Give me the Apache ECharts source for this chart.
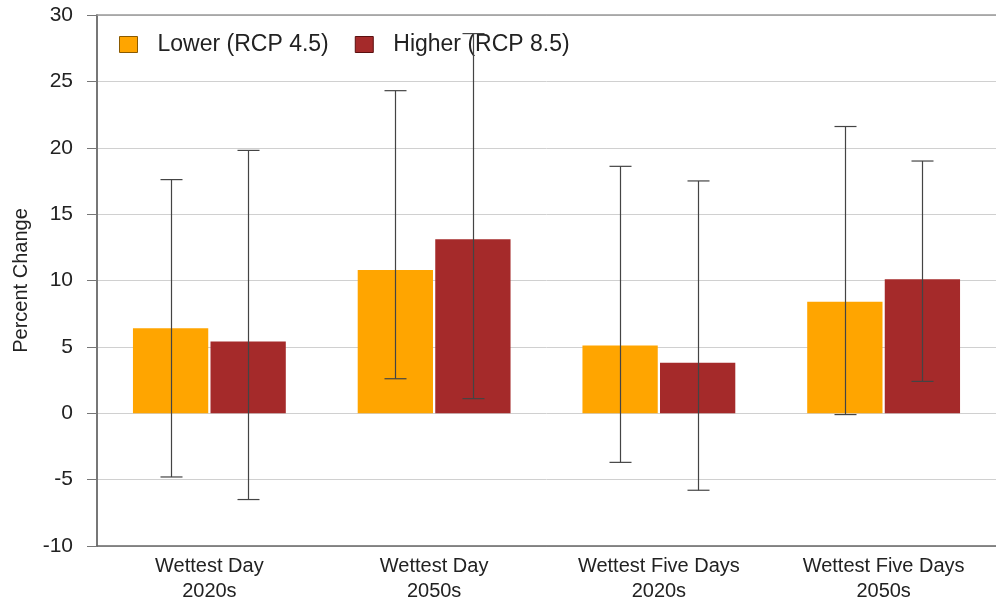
<!DOCTYPE html>
<html><head><meta charset="utf-8">
<script src="https://cdn.jsdelivr.net/npm/echarts@6/dist/echarts.min.js"></script>
<style>html,body{margin:0;padding:0;background:#fff}#c{width:996px;height:606px}</style>
</head><body><div id="c"></div>
<script>
const categories = ['Wettest Day\n2020s', 'Wettest Day\n2050s', 'Wettest Five Days\n2020s', 'Wettest Five Days\n2050s'];
const lowerValues = [6.4, 10.8, 5.1, 8.4];
const higherValues = [5.4, 13.1, 3.8, 10.1];
const lowerErrLow = [-4.8, 2.6, -3.7, -0.1];
const lowerErrHigh = [17.6, 24.3, 18.6, 21.6];
const higherErrLow = [-6.5, 1.1, -5.8, 2.4];
const higherErrHigh = [19.8, 28.6, 17.5, 19.0];
const yTicks = {min: -10, max: 30, interval: 5};

const BAR_W = 0.335, GAP = 0.03;
function errSeries(name, lows, highs, side) {
  return {
    type: 'custom', name: name + ' err', z: 10, silent: true,
    data: categories.map((c, i) => [i, lows[i], highs[i]]),
    encode: {x: 0, y: [1, 2]},
    renderItem: function (params, api) {
      const band = api.size([1, 0])[0];
      const bw = band * BAR_W;
      const off = side * (bw / 2 + bw * GAP / 2);
      const lo = api.coord([api.value(0), api.value(1)]);
      const hi = api.coord([api.value(0), api.value(2)]);
      const x = Math.round(lo[0] + off) + 0.5;
      const cap = 11;
      const st = {stroke: '#444', lineWidth: 1.2};
      return {type: 'group', children: [
        {type: 'line', shape: {x1: x, y1: lo[1], x2: x, y2: hi[1]}, style: st},
        {type: 'line', shape: {x1: x - cap, y1: lo[1], x2: x + cap, y2: lo[1]}, style: st},
        {type: 'line', shape: {x1: x - cap, y1: hi[1], x2: x + cap, y2: hi[1]}, style: st}
      ]};
    }
  };
}

const chart = echarts.init(document.getElementById('c'));
chart.setOption({
  animation: false,
  textStyle: {fontFamily: 'Liberation Sans, Arial, sans-serif'},
  grid: {left: 97, right: 0, top: 15, bottom: 60, containLabel: false, outerBoundsMode: 'none'},
  legend: {
    left: 119, top: 33, padding: 0, itemWidth: 18, itemHeight: 16, itemGap: 26, icon: 'rect',
    data: [
      {name: 'Lower (RCP 4.5)', itemStyle: {borderColor: '#8a5a00', borderWidth: 1}},
      {name: 'Higher (RCP 8.5)', itemStyle: {borderColor: '#5a1010', borderWidth: 1}}
    ],
    textStyle: {fontSize: 23, color: '#222', padding: [0, 0, 0, 15]}
  },
  xAxis: [{
    type: 'category', data: categories,
    axisLine: {onZero: false, lineStyle: {color: '#666', width: 1.5}},
    axisTick: {show: false},
    axisLabel: {fontSize: 20, color: '#222', lineHeight: 25, margin: 8}
  }, {
    type: 'category', data: categories, position: 'top',
    axisLine: {show: true, onZero: false, lineStyle: {color: '#999', width: 1.5}},
    axisTick: {show: false}, axisLabel: {show: false}
  }],
  yAxis: {
    type: 'value', min: yTicks.min, max: yTicks.max, interval: yTicks.interval,
    name: 'Percent Change', nameLocation: 'middle', nameGap: 66, nameRotate: 90,
    nameTextStyle: {fontSize: 20, color: '#222'},
    axisLine: {show: true, lineStyle: {color: '#777', width: 2}},
    axisTick: {show: true, length: 10, lineStyle: {color: '#777'}},
    axisLabel: {fontSize: 21, color: '#222', margin: 24},
    splitLine: {lineStyle: {color: '#d0d0d0', width: 1}}
  },
  series: [
    {name: 'Lower (RCP 4.5)', type: 'bar', data: lowerValues, barWidth: (BAR_W * 100) + '%', barGap: (GAP * 100) + '%',
     itemStyle: {color: '#FFA500'}, emphasis: {disabled: true}},
    {name: 'Higher (RCP 8.5)', type: 'bar', data: higherValues, barWidth: (BAR_W * 100) + '%', barGap: (GAP * 100) + '%',
     itemStyle: {color: '#A52A2A'}, emphasis: {disabled: true}},
    errSeries('Lower', lowerErrLow, lowerErrHigh, -1),
    errSeries('Higher', higherErrLow, higherErrHigh, 1)
  ]
});
</script></body></html>
